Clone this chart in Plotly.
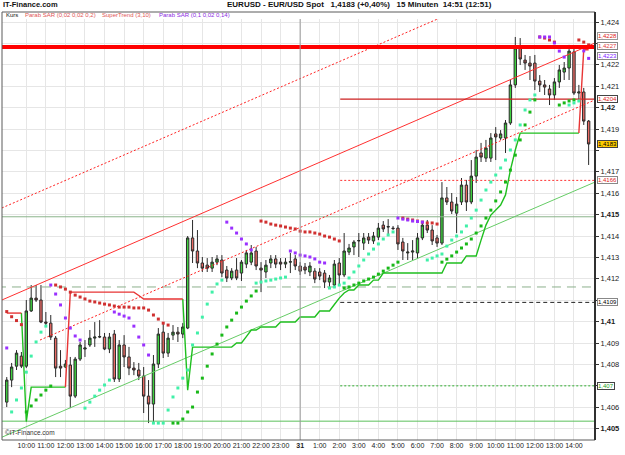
import plotly.graph_objects as go

# ---------------- data (15-minute candles, 30th 09:00 .. 31st 14:45) ----------------
opens = [1.40624,1.40727,1.40792,1.40839,1.40792,1.41050,1.41110,1.41101,1.40998,1.40993,
         1.40923,1.40792,1.40788,1.40797,1.40652,1.40825,1.40872,1.40891,1.40923,1.40928,
         1.40928,1.40872,1.40942,1.40732,1.40891,1.40835,1.40783,1.40774,1.40746,1.40652,
         1.40615,1.40802,1.40951,1.40853,1.40937,1.40951,1.40942,1.40970,1.41391,1.41330,
         1.41274,1.41264,1.41250,1.41278,1.41288,1.41241,1.41204,1.41241,1.41227,1.41269,
         1.41278,1.41330,1.41250,1.41232,1.41274,1.41293,1.41278,1.41269,1.41278,1.41293,
         1.41260,1.41255,1.41232,1.41236,1.41232,1.41227,1.41185,1.41171,1.41274,1.41218,
         1.41325,1.41349,1.41377,1.41367,1.41395,1.41377,1.41395,1.41451,1.41442,1.41437,
         1.41437,1.41372,1.41321,1.41325,1.41321,1.41391,1.41451,1.41428,1.41391,1.41367,
         1.41578,1.41559,1.41507,1.41559,1.41638,1.41559,1.41680,1.41788,1.41764,1.41764,
         1.41877,1.41858,1.41858,1.41928,1.42106,1.42279,1.42222,1.42208,1.42208,1.42124,
         1.42106,1.42087,1.42059,1.42120,1.42166,1.42185,1.42260,1.42068,1.42073,1.41937]
highs = [1.40741,1.40807,1.40867,1.40858,1.41101,1.41171,1.41171,1.41171,1.41045,1.41031,
         1.40933,1.40867,1.40821,1.40835,1.40835,1.40905,1.40914,1.40961,1.40998,1.41007,
         1.40947,1.40947,1.40961,1.40914,1.40937,1.40882,1.40811,1.40807,1.40788,1.40727,
         1.40844,1.40970,1.40993,1.40947,1.40984,1.40975,1.40993,1.41400,1.41475,1.41428,
         1.41302,1.41297,1.41302,1.41311,1.41311,1.41260,1.41250,1.41297,1.41288,1.41335,
         1.41358,1.41349,1.41278,1.41288,1.41311,1.41311,1.41297,1.41297,1.41321,1.41311,
         1.41278,1.41274,1.41278,1.41250,1.41250,1.41241,1.41218,1.41288,1.41297,1.41414,
         1.41363,1.41381,1.41414,1.41414,1.41414,1.41419,1.41461,1.41470,1.41479,1.41447,
         1.41451,1.41391,1.41367,1.41381,1.41414,1.41461,1.41475,1.41451,1.41405,1.41652,
         1.41629,1.41601,1.41582,1.41671,1.41662,1.41755,1.41802,1.41835,1.41849,1.41881,
         1.41909,1.41895,1.41942,1.42129,1.42330,1.42325,1.42246,1.42241,1.42246,1.42152,
         1.42129,1.42106,1.42138,1.42199,1.42213,1.42293,1.42279,1.42106,1.42092,1.41942]
lows = [1.40601,1.40694,1.40774,1.40783,1.40783,1.41045,1.41092,1.40993,1.40984,1.40914,
        1.40741,1.40741,1.40783,1.40596,1.40643,1.40816,1.40835,1.40882,1.40882,1.40923,
        1.40867,1.40853,1.40718,1.40718,1.40788,1.40750,1.40750,1.40727,1.40573,1.40526,
        1.40526,1.40783,1.40830,1.40835,1.40914,1.40905,1.40923,1.40965,1.41274,1.41250,
        1.41232,1.41232,1.41232,1.41264,1.41208,1.41185,1.41194,1.41194,1.41190,1.41250,
        1.41264,1.41241,1.41138,1.41204,1.41250,1.41250,1.41241,1.41250,1.41227,1.41241,
        1.41218,1.41222,1.41213,1.41180,1.41194,1.41157,1.41162,1.41157,1.41171,1.41208,
        1.41311,1.41311,1.41302,1.41335,1.41363,1.41363,1.41381,1.41419,1.41405,1.41428,
        1.41335,1.41288,1.41288,1.41288,1.41297,1.41381,1.41414,1.41358,1.41349,1.41358,
        1.41545,1.41503,1.41414,1.41545,1.41517,1.41549,1.41648,1.41746,1.41746,1.41746,
        1.41755,1.41849,1.41788,1.41919,1.42092,1.42199,1.42176,1.42129,1.42082,1.42073,
        1.42059,1.42012,1.42036,1.42092,1.42129,1.42129,1.42059,1.42036,1.41919,1.41732]
closes = [1.40727,1.40788,1.40853,1.40792,1.41050,1.41110,1.41101,1.40998,1.40993,1.40928,
          1.40783,1.40783,1.40802,1.40652,1.40825,1.40891,1.40877,1.40923,1.40928,1.40930,
          1.40872,1.40928,1.40732,1.40891,1.40835,1.40783,1.40774,1.40746,1.40652,1.40615,
          1.40802,1.40942,1.40853,1.40923,1.40951,1.40942,1.40975,1.41391,1.41330,1.41274,
          1.41250,1.41250,1.41278,1.41293,1.41227,1.41204,1.41236,1.41204,1.41278,1.41321,
          1.41321,1.41260,1.41241,1.41264,1.41293,1.41269,1.41269,1.41278,1.41280,1.41260,
          1.41236,1.41241,1.41260,1.41199,1.41213,1.41185,1.41204,1.41269,1.41218,1.41330,
          1.41344,1.41372,1.41379,1.41391,1.41381,1.41400,1.41437,1.41433,1.41444,1.41435,
          1.41363,1.41330,1.41325,1.41330,1.41391,1.41451,1.41428,1.41377,1.41367,1.41578,
          1.41559,1.41517,1.41549,1.41638,1.41559,1.41680,1.41769,1.41769,1.41811,1.41858,
          1.41863,1.41877,1.41928,1.42106,1.42279,1.42227,1.42208,1.42194,1.42124,1.42106,
          1.42096,1.42059,1.42120,1.42176,1.42185,1.42264,1.42068,1.42073,1.41937,1.41830]

# Parabolic SAR (0,02 0,02 0,2): value and side ('d' = above price, 'u' = below price)
sar1 = [1.41047,1.41023,1.41005,1.40986,1.40578,1.40606,1.40634,1.40657,1.40680,1.40699,
        1.41171,1.41162,1.41152,1.41138,1.41124,1.41115,1.41106,1.41096,1.41092,1.41087,
        1.41082,1.41078,1.41073,1.41068,1.41068,1.41068,1.41064,1.41064,1.41064,1.41054,
        1.41031,1.41012,1.40993,1.40984,1.40526,1.40526,1.40545,1.40578,1.40601,1.40671,
        1.40736,1.40792,1.40849,1.40895,1.40937,1.40975,1.41007,1.41040,1.41068,1.41096,
        1.41120,1.41143,1.41470,1.41465,1.41456,1.41451,1.41447,1.41442,1.41437,1.41433,
        1.41423,1.41419,1.41419,1.41414,1.41409,1.41400,1.41395,1.41386,1.41377,1.41157,
        1.41162,1.41171,1.41180,1.41190,1.41199,1.41208,1.41222,1.41236,1.41250,1.41264,
        1.41278,1.41484,1.41479,1.41475,1.41470,1.41465,1.41461,1.41461,1.41456,1.41278,
        1.41292,1.41307,1.41325,1.41344,1.41363,1.41386,1.41414,1.41447,1.41484,1.41521,
        1.41564,1.41606,1.41652,1.41708,1.41778,1.41849,1.41919,1.41979,1.42036,1.42330,
        1.42325,1.42316,1.42306,1.42012,1.42022,1.42031,1.42036,1.42316,1.42306,1.42293]
sar1_side = ("dddduuuuuu" "dddddddddd" "dddddddddd" "dddduuuuuu" "uuuuuuuuuu"
             "uudddddddd" "dddddddddu" "uuuuuuuuuu" "udddddddd" "u"
             "uuuuuuuuuu" "uuuuuuuuud" "ddduuuuddd")

# Parabolic SAR (0,1 0,02 0,14)
sar2 = [1.40877,1.40578,1.40634,1.40690,1.40764,1.40839,1.40905,1.40951,1.40979,1.41171,
        1.41129,1.41078,1.41017,1.40970,1.40933,1.40914,1.40596,1.40624,1.40652,1.40680,
        1.40704,1.40727,1.41045,1.41035,1.41026,1.41017,1.40979,1.40928,1.40891,1.40844,
        1.40526,1.40526,1.40526,1.40587,1.40648,1.40690,1.40736,1.40774,1.40891,1.40947,
        1.41021,1.41082,1.41138,1.41176,1.41194,1.41465,1.41437,1.41414,1.41386,1.41363,
        1.41335,1.41180,1.41185,1.41190,1.41194,1.41199,1.41204,1.41208,1.41330,1.41321,
        1.41311,1.41307,1.41302,1.41293,1.41278,1.41274,1.41157,1.41162,1.41171,1.41180,
        1.41204,1.41232,1.41260,1.41288,1.41316,1.41339,1.41363,1.41386,1.41405,1.41419,
        1.41484,1.41479,1.41475,1.41470,1.41468,1.41465,1.41288,1.41297,1.41307,1.41316,
        1.41353,1.41381,1.41400,1.41419,1.41447,1.41484,1.41521,1.41568,1.41615,1.41652,
        1.41685,1.41718,1.41755,1.41802,1.41849,1.41919,1.41989,1.42036,1.42059,1.42330,
        1.42330,1.42330,1.42302,1.42264,1.42236,1.42012,1.42022,1.42031,1.42265,1.42230]
sar2_side = ("duuuuuuuud" "dddddduuuu" "uudddddddd" "uuuuuuuuuu" "uuuuuddddd"
             "duuuuuuudd" "dddddduuuu" "uuuuuuuuuu" "dddddduuuu" "uuuuuuuuuu"
             "uuuuuuuuud" "ddddduuudd")

# SuperTrend (3,10)
st = ([1.41040]*4 + [1.40533] + [1.40694]*8 + [1.41138]*14 + [1.41122] + [1.41106]*9
      + [1.40680] + [1.40881]*9 + [1.40900]*2 + [1.40930] + [1.40961]*2 + [1.40975]*4
      + [1.40998]*4 + [1.41022]*4 + [1.41050]*3 + [1.41080, 1.41110, 1.41134]
      + [1.41148]*2 + [1.41171]*3 + [1.41194]*2 + [1.41227]*13 + [1.41274]*4
      + [1.41307]*3 + [1.41381, 1.41451, 1.41498, 1.41521, 1.41545, 1.41592, 1.41708, 1.41802]
      + [1.41881]*13 + [1.42270]*2)
st_side = "dddd" + "u"*9 + "d"*24 + "u"*81 + "dd"

# drawn lines: trend lines (candle index, price) and horizontal levels
trend_red = [(-1.0, 1.41101), (120.3, 1.42302)]
trend_red_upper = [(-1.0, 1.41531), (120.3, 1.42733)]
trend_red_lower = [(6.8, 1.40914), (120.3, 1.42036)]
trend_green = [(-1.4, 1.40456), (120.3, 1.41652)]
level_thick_red = 1.42283
level_green_a = 1.41490
level_green_dash = 1.41162
level_green_low = 1.40535
levels_right = [1.4204, 1.4166, 1.4109, 1.407]
levels_right_start = 68.2

# right-hand value tags: text, price position, text colour, fill, border
price_tags = [("1,4228", 1.42334, "#e02020", "white", "#999"),
              ("1,4227", 1.42288, "#e04040", "white", "#888"),
              ("1,4223", 1.42242, "#8020ff", "white", "#888"),
              ("1,4204", 1.42040, "#e02020", "white", "#444"),
              ("1,4183", 1.41830, "#000000", "#ffcc00", "#444"),
              ("1,4166", 1.41660, "#e02020", "white", "#888"),
              ("1,4109", 1.41090, "#000000", "white", "#888"),
              ("1,407", 1.40700, "#20a020", "white", "#444")]

ytick_vals = [1.405 + 0.001 * k for k in range(20)]
ytick_text = ["<b>1,405</b>", "1,406", "", "1,408", "1,409", "<b>1,41</b>", "", "1,412",
              "1,413", "1,414", "<b>1,415</b>", "1,416", "1,417", "", "1,419", "<b>1,42</b>",
              "1,421", "1,422", "", "1,424"]
xtick_text = ["10:00", "11:00", "12:00", "13:00", "14:00", "15:00", "16:00", "17:00", "18:00",
              "19:00", "20:00", "21:00", "22:00", "23:00", "<b>31</b>", "1:00", "2:00", "3:00",
              "4:00", "5:00", "6:00", "7:00", "8:00", "9:00", "10:00", "11:00", "12:00",
              "13:00", "14:00"]
xtick_vals = [4 * (k + 1) for k in range(len(xtick_text))]

n = len(closes)
idx = list(range(n))
FONT = "Liberation Sans, Arial, sans-serif"

fig = go.Figure()

def hline(y, color, width, dash="solid", x0=-2, x1=121):
    fig.add_trace(go.Scatter(x=[x0, x1], y=[y, y], mode="lines", hoverinfo="skip",
                             line=dict(color=color, width=width, dash=dash), showlegend=False))

def tline(pts, color, width, dash="solid"):
    fig.add_trace(go.Scatter(x=[p[0] for p in pts], y=[p[1] for p in pts], mode="lines",
                             hoverinfo="skip", line=dict(color=color, width=width, dash=dash),
                             showlegend=False))

# horizontal levels (under the candles)
hline(level_green_a, "#8cb48c", 1)
hline(level_green_dash, "#8cb08c", 1, "9px,6px")
hline(level_green_low, "#5cc05c", 1)

tline(trend_green, "#66cc66", 1)
tline(trend_red, "#ff3030", 1)
tline(trend_red_upper, "#ff2020", 1, "2px,2px")
tline(trend_red_lower, "#ff2020", 1, "2px,2px")

hline(levels_right[0], "#cc2020", 1.3, "solid", levels_right_start, 121)
hline(levels_right[1], "#ff3030", 1, "2px,2px", levels_right_start, 121)
hline(levels_right[2], "#222222", 1, "4px,3px", levels_right_start, 121)
hline(levels_right[3], "#30b030", 1, "2px,2px", levels_right_start, 121)

# SuperTrend: each side drawn together with the step into it
def st_trace(side, color):
    xs, ys = [], []
    for i in range(n):
        if st_side[i] == side:
            if i > 0 and st_side[i - 1] != side:
                if xs:
                    xs.append(None); ys.append(None)
                xs.append(i - 1); ys.append(st[i - 1])
            xs.append(i); ys.append(st[i])
    fig.add_trace(go.Scatter(x=xs, y=ys, mode="lines", hoverinfo="skip", connectgaps=False,
                             line=dict(color=color, width=1.4), showlegend=False))

st_trace("u", "#1fbf1f")
st_trace("d", "#e83535")

# candles
fig.add_trace(go.Candlestick(
    x=idx, open=opens, high=highs, low=lows, close=closes, whiskerwidth=0,
    increasing=dict(fillcolor="#3fd23f", line=dict(color="#2a2a2a", width=1)),
    decreasing=dict(fillcolor="#e86a64", line=dict(color="#2a2a2a", width=1)),
    showlegend=False, hoverinfo="skip"))

# SAR dots
def dots(vals, sides, side, color):
    xs = [i for i in range(n) if sides[i] == side]
    fig.add_trace(go.Scatter(x=xs, y=[vals[i] for i in xs], mode="markers", hoverinfo="skip",
                             marker=dict(symbol="square", size=3, color=color,
                                         line=dict(width=0)), showlegend=False))

dots(sar1, sar1_side, "d", "#d03030")
dots(sar1, sar1_side, "u", "#18b818")
dots(sar2, sar2_side, "d", "#9a30ff")
dots(sar2, sar2_side, "u", "#40f0a8")

# thick red level on top
hline(level_thick_red, "#ff0000", 4)

shapes = [
    dict(type="line", xref="x", yref="paper", x0=60, x1=60, y0=0, y1=1, line=dict(color="#9a9a9a", width=1)),
    dict(type="rect", xref="paper", yref="paper", x0=0, x1=1, y0=0, y1=1.0166,
         line=dict(color="#5a5a5a", width=1), fillcolor="rgba(0,0,0,0)"),
    dict(type="line", xref="paper", yref="paper", x0=1, x1=1, y0=0, y1=1.0166,
         line=dict(color="#303030", width=2)),
]

annotations = [
    dict(text="<b>IT-Finance.com</b>", xref="paper", yref="paper", x=-0.002, y=1.0335,
         xanchor="left", yanchor="middle", showarrow=False, font=dict(size=7.5, color="#111", family=FONT)),
    dict(text="<b>EURUSD - EUR/USD Spot&nbsp;&nbsp;&nbsp;1,4183 (+0,40%)&nbsp;&nbsp;&nbsp;15 Minuten&nbsp;&nbsp;14:51 (12:51)</b>",
         xref="paper", yref="paper", x=0.376, y=1.0335, xanchor="left", yanchor="middle",
         showarrow=False, font=dict(size=8, color="#111", family=FONT)),
    dict(text="Kurs", xref="paper", yref="paper", x=0.003, y=1.0085, xanchor="left", yanchor="middle",
         showarrow=False, font=dict(size=6, color="#111", family=FONT)),
    dict(text="Parab SAR (0,02 0,02 0,2)", xref="paper", yref="paper", x=0.036, y=1.0085,
         xanchor="left", yanchor="middle", showarrow=False, font=dict(size=6, color="#e05555", family=FONT)),
    dict(text="SuperTrend (3,10)", xref="paper", yref="paper", x=0.165, y=1.0085,
         xanchor="left", yanchor="middle", showarrow=False, font=dict(size=6, color="#e05555", family=FONT)),
    dict(text="Parab SAR (0,1 0,02 0,14)", xref="paper", yref="paper", x=0.262, y=1.0085,
         xanchor="left", yanchor="middle", showarrow=False, font=dict(size=6, color="#8a2be2", family=FONT)),
    dict(text="©IT-Finance.com", xref="paper", yref="paper", x=0.002, y=0.004, xanchor="left",
         yanchor="bottom", showarrow=False, font=dict(size=6.5, color="#333", family=FONT)),
]
for txt, val, fc, bg, bc in price_tags:
    annotations.append(dict(text=txt, xref="paper", yref="y", x=1.004, y=val, xanchor="left",
                            yanchor="middle", showarrow=False, bgcolor=bg, bordercolor=bc,
                            borderwidth=1, borderpad=0, font=dict(size=6, color=fc, family=FONT)))

fig.update_layout(
    width=625, height=455, margin=dict(l=2, r=30, t=19, b=15, autoexpand=False),
    paper_bgcolor="white", plot_bgcolor="white", showlegend=False,
    font=dict(family=FONT, size=7.5, color="#222"),
    shapes=shapes, annotations=annotations, boxgap=0.3,
    xaxis=dict(range=[-0.97, 120.3], tickvals=xtick_vals, ticktext=xtick_text, showgrid=True,
               gridcolor="#e6e6e6", gridwidth=1, zeroline=False, ticks="", showline=False,
               tickangle=0, automargin=False,
               rangeslider=dict(visible=False), tickfont=dict(size=7, color="#222"), fixedrange=True),
    yaxis=dict(range=[1.40447, 1.42414], side="right", tickvals=ytick_vals, ticktext=ytick_text,
               showgrid=True, gridcolor="#e6e6e6", gridwidth=1, zeroline=False, ticks="outside",
               ticklen=3, tickcolor="#333", showline=False, automargin=False,
               tickfont=dict(size=7.5, color="#222"), fixedrange=True),
)

fig.write_html("out.html")
